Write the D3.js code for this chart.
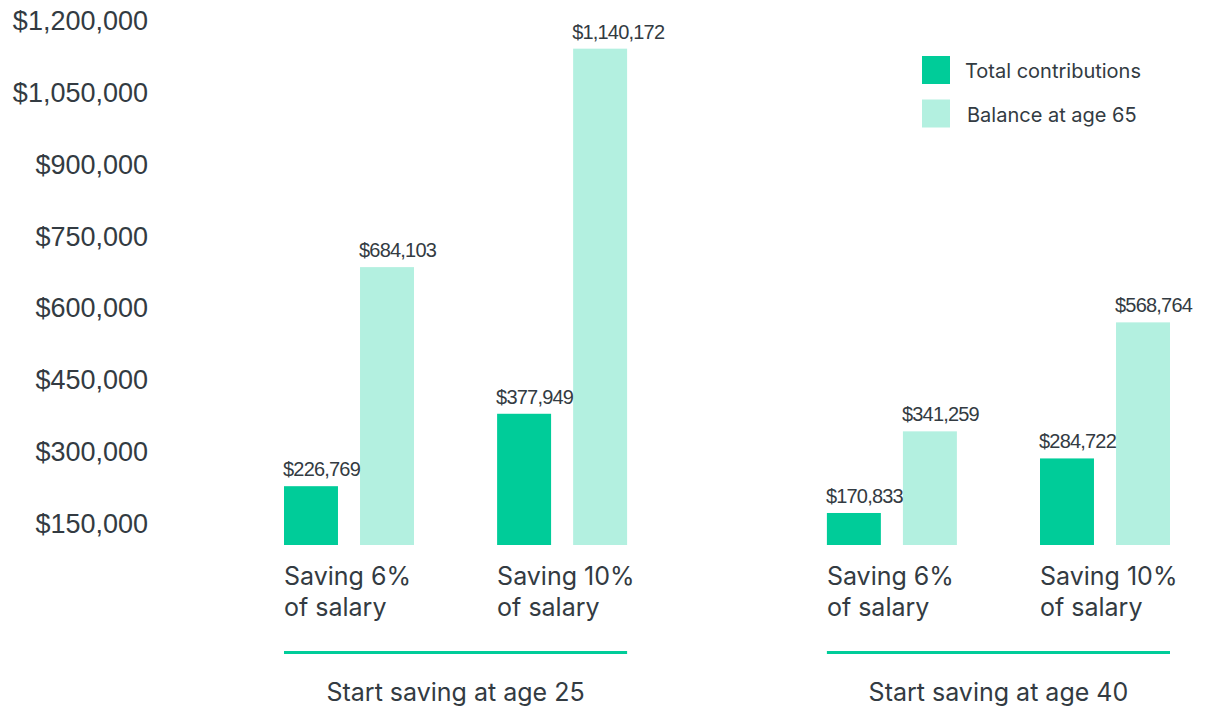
<!DOCTYPE html>
<html>
<head>
<meta charset="utf-8">
<script src="https://cdn.jsdelivr.net/npm/d3@7"></script>
<style>
  html, body { margin: 0; padding: 0; background: #fff; }
  svg { display: block; }
</style>
</head>
<body>
<svg id="chart" width="1210" height="709"></svg>
<script>
// ---- Data ----
const groups = ["Start saving at age 25", "Start saving at age 40"];
const subcategories = [["Saving 6%", "of salary"], ["Saving 10%", "of salary"]];
const seriesNames = ["Total contributions", "Balance at age 65"];
const contributions = [226769, 377949, 170833, 284722];   // age25-6%, age25-10%, age40-6%, age40-10%
const balances = [684103, 1140172, 341259, 568764];
const yTicks = [150000, 300000, 450000, 600000, 750000, 900000, 1050000, 1200000];

// ---- Styling ----
const colors = ["#00cc99", "#b3f0e0"];
const textColor = "#333b42";
const svg = d3.select("#chart");

// ---- Scales ----
const y = d3.scaleLinear().domain([104000, 1200000]).range([545, 20]);
const xGroup = d3.scaleBand().domain(d3.range(groups.length)).range([284, 1170]).paddingInner(0.368).paddingOuter(0);
const xSub = d3.scaleBand().domain(d3.range(subcategories.length)).range([0, xGroup.bandwidth()]).paddingInner(0.39).paddingOuter(0);
const xSeries = d3.scaleBand().domain(d3.range(seriesNames.length)).range([0, xSub.bandwidth()]).paddingInner(0.29).paddingOuter(0);

// ---- Y axis (labels only) ----
const yAxis = d3.axisLeft(y).tickValues(yTicks).tickSize(0).tickPadding(0)
  .tickFormat(d => "$" + d3.format(",")(d));
const gy = svg.append("g").attr("transform", "translate(148,0)").call(yAxis);
gy.select(".domain").remove();
gy.selectAll("text")
  .attr("fill", textColor)
  .style("font-family", "'Liberation Sans', Arial, sans-serif")
  .style("font-size", "27px")
  .attr("dy", "0.35em");

// ---- Bars ----
const records = [];
groups.forEach((g, gi) => {
  subcategories.forEach((s, si) => {
    const idx = gi * subcategories.length + si;
    [contributions[idx], balances[idx]].forEach((v, k) => {
      records.push({ gi, si, k, v });
    });
  });
});
const xPos = d => xGroup(d.gi) + xSub(d.si) + xSeries(d.k);

svg.append("g").selectAll("rect").data(records).join("rect")
  .attr("x", xPos)
  .attr("y", d => y(d.v))
  .attr("width", xSeries.bandwidth())
  .attr("height", d => y.range()[0] - y(d.v))
  .attr("fill", d => colors[d.k]);

// Value labels
svg.append("g").selectAll("text").data(records).join("text")
  .attr("x", d => xPos(d) - 1)
  .attr("y", d => y(d.v) - 10)
  .attr("fill", textColor)
  .style("font-family", "'Liberation Sans', Arial, sans-serif")
  .style("font-size", "20px")
  .style("letter-spacing", "-0.8px")
  .text(d => "$" + d3.format(",")(d.v));

// ---- Subcategory labels ----
groups.forEach((g, gi) => {
  subcategories.forEach((s, si) => {
    const t = svg.append("text")
      .attr("x", xGroup(gi) + xSub(si))
      .attr("y", 585)
      .attr("fill", textColor)
      .style("font-family", "Inter, 'Noto Sans', sans-serif")
      .style("font-size", "25px");
    s.forEach((line, li) => {
      t.append("tspan").attr("x", xGroup(gi) + xSub(si)).attr("dy", li === 0 ? 0 : 31).text(line);
    });
  });
});

// ---- Group lines and labels ----
const gg = svg.append("g").selectAll("g").data(groups).join("g");
gg.append("line")
  .attr("x1", (d, i) => xGroup(i))
  .attr("x2", (d, i) => xGroup(i) + xGroup.bandwidth())
  .attr("y1", 652.5).attr("y2", 652.5)
  .attr("stroke", colors[0]).attr("stroke-width", 3);
gg.append("text")
  .attr("x", (d, i) => xGroup(i) + xGroup.bandwidth() / 2)
  .attr("y", 701)
  .attr("text-anchor", "middle")
  .attr("fill", textColor)
  .style("font-family", "Inter, 'Noto Sans', sans-serif")
  .style("font-size", "25px")
  .text(d => d);

// ---- Legend ----
const legend = svg.append("g").attr("transform", "translate(922,56)");
const li = legend.selectAll("g").data(seriesNames).join("g")
  .attr("transform", (d, i) => `translate(0,${i * 43.5})`);
li.append("rect").attr("width", 28).attr("height", 28).attr("fill", (d, i) => colors[i]);
li.append("text")
  .attr("x", (d, i) => 43 + i * 2)
  .attr("y", 22)
  .attr("fill", textColor)
  .style("font-family", "Inter, 'Noto Sans', sans-serif")
  .style("font-size", "20px")
  .text(d => d);
</script>
</body>
</html>
